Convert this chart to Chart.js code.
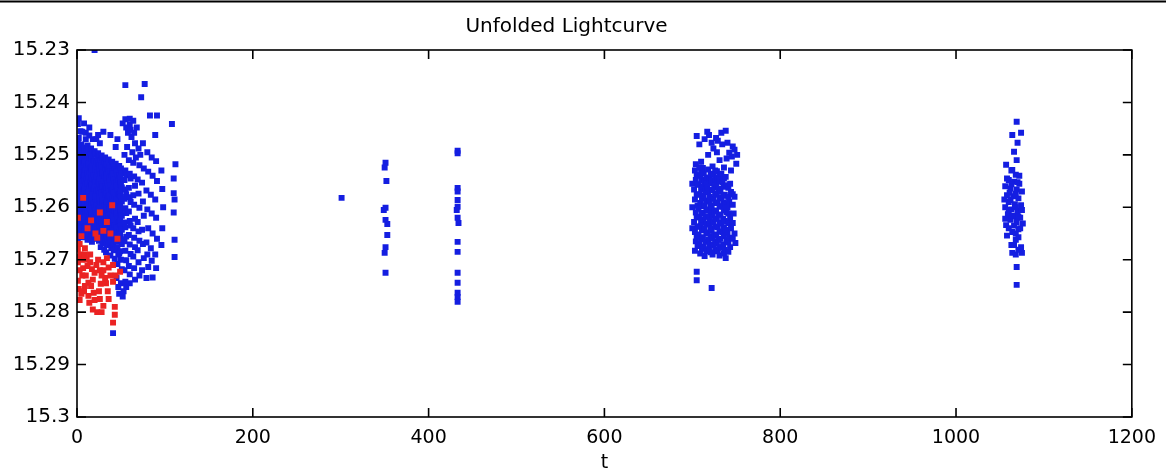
<!DOCTYPE html>
<html>
<head>
<meta charset="utf-8">
<script src="https://cdn.jsdelivr.net/npm/chart.js@4/dist/chart.umd.min.js"></script>
<style>
  body { margin: 0; background: #fff; }
</style>
</head>
<body>
<canvas id="lightcurve" width="1166" height="474"></canvas>
<script>
// t, magnitude pairs
const redEarly = [
  [7,15.2582],[26,15.2610],[40,15.2596],[34,15.2628],[23,15.2658],[3,15.2670],[9,15.2678],[15,15.2690],
  [1,15.2705],[22,15.2710],[30,15.2705],[26,15.2720],[34,15.2697],[41,15.2710],[6,15.2730],[13,15.2744],
  [2,15.2756],[18,15.2738],[27,15.2746],[32,15.2735],[41,15.2742],[19,15.2763],[13,15.2769],[3,15.2777],
  [20,15.2777],[30,15.2788],[23,15.2800],[43,15.2790],[43,15.2805],[41,15.2820],[7,15.2716],[49,15.2723],
  [4,15.2690],[11,15.2700],[17,15.2718],[36,15.2715],[28,15.2730],[8,15.2760],[25,15.2760],[35,15.2760],
  [1,15.2620],[12,15.2640],[5,15.2655],
  [1,15.2680],[2,15.2695],[5,15.2700],[9,15.2690],[12,15.2712],[3,15.2720],[15,15.2705],[20,15.2725],
  [24,15.2700],[10,15.2730],[16,15.2750],[30,15.2720],[38,15.2730],[33,15.2745],[44,15.2730],[9,15.2750],
  [5,15.2765],[1,15.2740],[14,15.2782],[26,15.2775],[36,15.2775],[28,15.2800],[18,15.2795],[21,15.2650],
  [30,15.2645],[16,15.2625],[38,15.2650],[46,15.2660]
];

const blueEarly = [
  [20,15.2300],[55,15.2367],[77,15.2365],[108,15.2441],[112,15.2518],[110,15.2545],[110,15.2573],[111,15.2585],
  [110,15.2610],[111,15.2662],[111,15.2695],[41,15.2840],[48,15.2765],[52,15.2770],
  [2,15.2430],[8,15.2440],[14,15.2448],[4,15.2455],[18,15.2470],[24,15.2462],[10,15.2458],
  [52,15.2440],[58,15.2458],[62,15.2466],[57,15.2485],[63,15.2495],[67,15.2505],[72,15.2500],
  [45,15.2735],[50,15.2745],[56,15.2752],[60,15.2745],[47,15.2752],[53,15.2760],
  [1,15.2441],[2,15.2468],[1,15.2477],[3,15.2486],[2,15.2495],[1,15.2503],[3,15.2512],[2,15.2521],[1,15.2530],
  [3,15.2538],[2,15.2547],[1,15.2556],[3,15.2565],[2,15.2573],[1,15.2582],[3,15.2591],[2,15.2600],[1,15.2609],
  [3,15.2618],[2,15.2627],[1,15.2636],[3,15.2645],[2,15.2654],[1,15.2663],
  [4,15.2491],[4,15.2510],[5,15.2526],[4,15.2545],[4,15.2563],[5,15.2579],[4,15.2598],[4,15.2617],[5,15.2633],[4,15.2651],
  [6,15.2456],[5,15.2480],[7,15.2489],[6,15.2498],[5,15.2507],[7,15.2516],[6,15.2524],[5,15.2533],[7,15.2542],
  [6,15.2551],[5,15.2560],[7,15.2569],[6,15.2577],[5,15.2586],[7,15.2595],[6,15.2604],[5,15.2613],[7,15.2622],
  [6,15.2631],[5,15.2640],[7,15.2649],[6,15.2657],
  [8,15.2494],[8,15.2514],[9,15.2530],[8,15.2549],[8,15.2568],[9,15.2584],[8,15.2603],[8,15.2622],[9,15.2638],[8,15.2656],
  [10,15.2470],[9,15.2486],[11,15.2494],[10,15.2503],[9,15.2512],[11,15.2521],[10,15.2530],[9,15.2539],
  [11,15.2547],[10,15.2556],[9,15.2565],[11,15.2574],[10,15.2583],[9,15.2592],[11,15.2601],[10,15.2610],
  [9,15.2619],[11,15.2628],[10,15.2637],[9,15.2646],[11,15.2655],
  [12,15.2482],[12,15.2501],[13,15.2518],[12,15.2535],[12,15.2555],[13,15.2571],[12,15.2591],[12,15.2607],[13,15.2627],[12,15.2645],[12,15.2662],
  [14,15.2463],[13,15.2490],[15,15.2499],[14,15.2508],[13,15.2517],[15,15.2526],[14,15.2535],[13,15.2544],
  [15,15.2553],[14,15.2562],[13,15.2571],[15,15.2580],[14,15.2589],[13,15.2598],[15,15.2607],[14,15.2616],
  [13,15.2625],[15,15.2634],[14,15.2643],[13,15.2652],[15,15.2661],
  [16,15.2488],[16,15.2507],[17,15.2523],[16,15.2543],[16,15.2559],[17,15.2579],[16,15.2595],[16,15.2615],[17,15.2631],[16,15.2650],
  [18,15.2494],[17,15.2503],[19,15.2512],[18,15.2521],[17,15.2530],[19,15.2539],[18,15.2548],[17,15.2557],
  [19,15.2566],[18,15.2575],[17,15.2584],[19,15.2593],[18,15.2602],[17,15.2611],[19,15.2620],[18,15.2629],
  [17,15.2638],[19,15.2647],[18,15.2656],[17,15.2666],
  [20,15.2493],[20,15.2512],[21,15.2528],[20,15.2548],[20,15.2564],[21,15.2584],[20,15.2600],[20,15.2620],[21,15.2636],[20,15.2655],
  [22,15.2470],[21,15.2498],[23,15.2507],[22,15.2516],[21,15.2525],[23,15.2534],[22,15.2543],[21,15.2552],
  [23,15.2561],[22,15.2570],[21,15.2579],[23,15.2588],[22,15.2597],[21,15.2606],[23,15.2615],[22,15.2624],
  [21,15.2633],[23,15.2642],[22,15.2651],[21,15.2660],
  [24,15.2497],[24,15.2516],[25,15.2532],[24,15.2552],[24,15.2568],[25,15.2588],[24,15.2604],[24,15.2624],[25,15.2640],[24,15.2659],
  [26,15.2478],[25,15.2502],[27,15.2511],[26,15.2520],[25,15.2529],[27,15.2538],[26,15.2547],[25,15.2556],
  [27,15.2565],[26,15.2574],[25,15.2583],[27,15.2592],[26,15.2601],[25,15.2610],[27,15.2619],[26,15.2628],
  [25,15.2637],[27,15.2646],[26,15.2655],[25,15.2664],[27,15.2676],
  [28,15.2501],[28,15.2520],[29,15.2536],[28,15.2556],[28,15.2572],[29,15.2592],[28,15.2608],[28,15.2628],[29,15.2644],[28,15.2663],
  [30,15.2456],[29,15.2506],[31,15.2515],[30,15.2524],[29,15.2533],[31,15.2542],[30,15.2551],[29,15.2560],
  [31,15.2569],[30,15.2578],[29,15.2587],[31,15.2596],[30,15.2605],[29,15.2614],[31,15.2623],[30,15.2632],
  [29,15.2641],[31,15.2650],[30,15.2659],[29,15.2668],[31,15.2681],
  [32,15.2505],[32,15.2524],[33,15.2540],[32,15.2560],[32,15.2576],[33,15.2596],[32,15.2612],[32,15.2632],[33,15.2648],[32,15.2667],
  [34,15.2510],[33,15.2519],[35,15.2528],[34,15.2537],[33,15.2546],[35,15.2555],[34,15.2564],[33,15.2573],
  [35,15.2582],[34,15.2591],[33,15.2600],[35,15.2609],[34,15.2618],[33,15.2627],[35,15.2636],[34,15.2645],
  [33,15.2654],[35,15.2663],[34,15.2672],[33,15.2686],
  [36,15.2509],[36,15.2528],[37,15.2544],[36,15.2564],[36,15.2580],[37,15.2600],[36,15.2616],[36,15.2636],[37,15.2652],[36,15.2671],
  [38,15.2462],[39,15.2514],[37,15.2523],[38,15.2532],[39,15.2541],[37,15.2550],[38,15.2559],[39,15.2568],
  [37,15.2577],[38,15.2586],[39,15.2595],[37,15.2604],[38,15.2613],[39,15.2622],[37,15.2631],[38,15.2640],
  [39,15.2649],[37,15.2658],[38,15.2667],[39,15.2678],[38,15.2692],
  [40,15.2513],[40,15.2532],[41,15.2548],[40,15.2568],[40,15.2584],[41,15.2604],[40,15.2620],[40,15.2640],[41,15.2656],[40,15.2675],
  [44,15.2485],[42,15.2518],[43,15.2527],[41,15.2536],[42,15.2545],[43,15.2554],[41,15.2563],[42,15.2572],
  [43,15.2581],[41,15.2590],[42,15.2599],[43,15.2608],[41,15.2617],[42,15.2626],[43,15.2635],[41,15.2644],
  [42,15.2653],[43,15.2662],[41,15.2671],[42,15.2682],[43,15.2698],
  [44,15.2517],[44,15.2536],[45,15.2552],[44,15.2572],[44,15.2588],[45,15.2608],[44,15.2624],[44,15.2644],[45,15.2660],[44,15.2680],
  [46,15.2470],[47,15.2522],[45,15.2531],[46,15.2540],[47,15.2549],[45,15.2558],[46,15.2567],[47,15.2576],
  [45,15.2585],[46,15.2594],[47,15.2603],[45,15.2612],[46,15.2621],[47,15.2630],[45,15.2639],[46,15.2648],
  [47,15.2657],[45,15.2666],[46,15.2676],[47,15.2690],[46,15.2708],
  [48,15.2521],[48,15.2540],[49,15.2556],[48,15.2576],[48,15.2592],[49,15.2612],[48,15.2628],[48,15.2648],[49,15.2664],[48,15.2688],
  [50,15.2526],[51,15.2535],[49,15.2544],[50,15.2553],[51,15.2562],[49,15.2571],[50,15.2580],[51,15.2589],
  [49,15.2598],[50,15.2607],[51,15.2616],[49,15.2625],[50,15.2634],[51,15.2643],[49,15.2652],[50,15.2661],
  [51,15.2670],[49,15.2684],[50,15.2700],[51,15.2718],
  [55,15.2432],[56,15.2448],[54,15.2500],[55,15.2530],[56,15.2539],[54,15.2548],[55,15.2566],[56,15.2575],
  [54,15.2584],[55,15.2602],[56,15.2611],[54,15.2629],[55,15.2638],[56,15.2656],[54,15.2665],[55,15.2683],
  [56,15.2701],[54,15.2720],[55,15.2742],
  [60,15.2431],[60,15.2442],[61,15.2452],[59,15.2510],[60,15.2536],[61,15.2545],[59,15.2563],[60,15.2581],
  [61,15.2590],[59,15.2608],[60,15.2626],[61,15.2635],[59,15.2653],[60,15.2671],[61,15.2689],[59,15.2712],
  [60,15.2728],
  [64,15.2435],[65,15.2458],[66,15.2478],[64,15.2515],[65,15.2541],[66,15.2559],[64,15.2577],[65,15.2595],
  [66,15.2622],[64,15.2640],[65,15.2658],[66,15.2676],[64,15.2694],[65,15.2716],[66,15.2738],
  [68,15.2448],[70,15.2488],[71,15.2520],[69,15.2547],[70,15.2574],[71,15.2601],[69,15.2628],[70,15.2646],
  [71,15.2664],[69,15.2682],[70,15.2705],[71,15.2730],
  [73,15.2390],[75,15.2478],[76,15.2526],[74,15.2553],[75,15.2589],[76,15.2616],[74,15.2643],[75,15.2670],
  [76,15.2697],[74,15.2720],
  [80,15.2495],[81,15.2532],[79,15.2568],[80,15.2604],[81,15.2640],[79,15.2667],[80,15.2690],[81,15.2714],
  [79,15.2735],
  [83,15.2425],[85,15.2505],[86,15.2540],[84,15.2576],[85,15.2612],[86,15.2650],[84,15.2678],[85,15.2702],
  [86,15.2734],
  [91,15.2425],[89,15.2462],[90,15.2512],[91,15.2550],[89,15.2585],[90,15.2620],[91,15.2660],[89,15.2690],
  [90,15.2716],
  [96,15.2530],[97,15.2565],[98,15.2600],[97,15.2640],[96,15.2672]
];

const blue350 = [
  [301,15.2582],[351,15.2515],[350,15.2524],[352,15.2550],[351,15.2601],[349,15.2605],[351,15.2624],
  [353,15.2632],[353,15.2653],[351,15.2676],[350,15.2687],[351,15.2725]
];

const blue432 = [
  [433,15.2492],[433,15.2497],[433,15.2563],[433,15.2570],[433,15.2586],[433,15.2599],[432,15.2605],
  [433,15.2620],[434,15.2630],[433,15.2666],[433,15.2685],[433,15.2725],[433,15.2744],[433,15.2763],
  [433,15.2771],[433,15.2780]
];

const blue730 = [
  [705,15.2464],[717,15.2456],[719,15.2462],[733,15.2458],[738,15.2454],[727,15.2468],[722,15.2477],
  [729,15.2473],[740,15.2477],[746,15.2484],[748,15.2490],[728,15.2495],[739,15.2507],[745,15.2503],
  [751,15.2500],[704,15.2518],[710,15.2513],[750,15.2517],
  [708,15.2480],[714,15.2470],[724,15.2488],[734,15.2480],[742,15.2496],[718,15.2500],[731,15.2510],
  [712,15.2525],[736,15.2524],[744,15.2530],[700,15.2555],[700,15.2600],[700,15.2640],
  [703,15.2530],[704,15.2548],[702,15.2566],[703,15.2585],[704,15.2610],[702,15.2628],[703,15.2647],[704,15.2665],[703,15.2683],
  [705,15.2539],[706,15.2557],[705,15.2576],[706,15.2597],[705,15.2619],[706,15.2637],[705,15.2656],[706,15.2674],
  [708,15.2524],[709,15.2540],[707,15.2556],[708,15.2575],[709,15.2592],[707,15.2603],[708,15.2619],[709,15.2636],
  [707,15.2652],[708,15.2670],[709,15.2688],
  [710,15.2532],[711,15.2548],[710,15.2566],[711,15.2584],[710,15.2598],[711,15.2611],[710,15.2628],[711,15.2644],
  [710,15.2661],[711,15.2679],
  [713,15.2535],[714,15.2551],[712,15.2560],[713,15.2578],[714,15.2596],[712,15.2612],[713,15.2624],[714,15.2640],
  [712,15.2657],[713,15.2675],[714,15.2693],
  [716,15.2543],[716,15.2555],[715,15.2569],[716,15.2587],[716,15.2604],[715,15.2618],[716,15.2632],[716,15.2648],
  [715,15.2666],[716,15.2684],
  [718,15.2528],[719,15.2545],[717,15.2563],[718,15.2571],[719,15.2589],[717,15.2605],[718,15.2617],[719,15.2633],
  [717,15.2650],[718,15.2662],[719,15.2680],
  [721,15.2536],[721,15.2554],[720,15.2580],[721,15.2597],[721,15.2611],[720,15.2625],[721,15.2641],[721,15.2655],
  [720,15.2671],[721,15.2686],
  [723,15.2522],[724,15.2538],[722,15.2549],[723,15.2567],[724,15.2584],[722,15.2600],[723,15.2615],[724,15.2629],
  [722,15.2645],[723,15.2659],[724,15.2672],[723,15.2690],
  [726,15.2530],[726,15.2547],[725,15.2562],[726,15.2576],[726,15.2592],[725,15.2608],[726,15.2622],[726,15.2637],
  [725,15.2652],[726,15.2665],[726,15.2680],
  [728,15.2531],[729,15.2543],[727,15.2557],[728,15.2574],[729,15.2591],[727,15.2606],[728,15.2622],[729,15.2638],
  [727,15.2654],[728,15.2668],[729,15.2684],
  [731,15.2540],[731,15.2550],[730,15.2565],[731,15.2582],[731,15.2598],[730,15.2614],[731,15.2630],[731,15.2646],
  [730,15.2662],[731,15.2676],[731,15.2692],
  [733,15.2536],[734,15.2553],[732,15.2569],[733,15.2583],[734,15.2599],[732,15.2614],[733,15.2631],[734,15.2647],
  [732,15.2660],[733,15.2677],
  [736,15.2545],[736,15.2561],[735,15.2578],[736,15.2591],[736,15.2606],[735,15.2622],[736,15.2638],[736,15.2655],
  [735,15.2671],[736,15.2688],
  [738,15.2542],[739,15.2558],[737,15.2576],[738,15.2594],[739,15.2609],[737,15.2626],[738,15.2643],[739,15.2663],
  [737,15.2681],[738,15.2697],
  [741,15.2563],[741,15.2580],[740,15.2600],[741,15.2612],[741,15.2630],[740,15.2648],[741,15.2667],[741,15.2685],
  [743,15.2555],[744,15.2571],[742,15.2590],[743,15.2620],[744,15.2640],[742,15.2658],[743,15.2676],
  [746,15.2575],[746,15.2595],[746,15.2630],[746,15.2660],
  [748,15.2580],[747,15.2612],[748,15.2650],[749,15.2668],
  [705,15.2723],[705,15.2739],[722,15.2754]
];

const blue1065 = [
  [1069,15.2437],[1064,15.2462],[1074,15.2458],[1070,15.2477],[1066,15.2494],[1069,15.2510],[1057,15.2519],
  [1064,15.2529],[1068,15.2538],[1060,15.2548],[1066,15.2551],[1072,15.2555],[1056,15.2560],[1062,15.2564],
  [1069,15.2566],[1075,15.2570],[1058,15.2577],[1065,15.2579],[1071,15.2583],[1060,15.2590],[1067,15.2594],
  [1074,15.2596],[1056,15.2600],[1063,15.2604],[1070,15.2607],[1059,15.2613],[1066,15.2617],[1073,15.2620],
  [1062,15.2624],[1069,15.2628],[1076,15.2631],[1057,15.2634],[1064,15.2647],[1071,15.2642],[1068,15.2662],
  [1063,15.2672],[1074,15.2676],[1064,15.2687],[1068,15.2690],[1075,15.2687],[1069,15.2714],[1069,15.2748],
  [1058,15.2545],[1063,15.2556],[1070,15.2552],[1061,15.2572],[1068,15.2574],[1055,15.2585],[1062,15.2586],
  [1068,15.2600],[1075,15.2605],[1060,15.2605],[1064,15.2616],[1071,15.2618],[1056,15.2622],[1066,15.2635],
  [1060,15.2640],[1073,15.2640],[1068,15.2650],[1058,15.2654],[1071,15.2657],[1066,15.2672],[1071,15.2681],
  [1063,15.2530],[1072,15.2540]
];

const xTicks = [0, 200, 400, 600, 800, 1000, 1200];
const yTicks = [15.23, 15.24, 15.25, 15.26, 15.27, 15.28, 15.29, 15.3];

function toPoints(pairs) {
    return pairs.map(p => ({ x: p[0], y: p[1] }));
}

// box around the plot plus inward ticks, matlab style
const frame = {
    id: 'frame',
    afterDraw(chart) {
        const ctx = chart.ctx;
        const a = chart.chartArea;
        const x = chart.scales.x;
        const y = chart.scales.y;
        ctx.save();
        ctx.strokeStyle = '#000';
        ctx.lineWidth = 1.6;
        ctx.strokeRect(a.left, a.top, a.right - a.left, a.bottom - a.top);
        ctx.beginPath();
        xTicks.forEach(v => {
            const px = x.getPixelForValue(v);
            ctx.moveTo(px, a.bottom); ctx.lineTo(px, a.bottom - 9);
            ctx.moveTo(px, a.top); ctx.lineTo(px, a.top + 9);
        });
        yTicks.forEach(v => {
            const py = y.getPixelForValue(v);
            ctx.moveTo(a.left, py); ctx.lineTo(a.left + 9, py);
            ctx.moveTo(a.right, py); ctx.lineTo(a.right - 9, py);
        });
        ctx.stroke();
        // rule across the very top of the figure
        ctx.lineWidth = 2;
        ctx.beginPath();
        ctx.moveTo(0, 1.5); ctx.lineTo(chart.width, 1.5);
        ctx.stroke();
        ctx.restore();
    }
};

const blue = 'rgb(20, 30, 225)';
const red = 'rgb(235, 35, 35)';
const dot = { pointStyle: 'rect', pointRadius: 4.2, pointBorderWidth: 0, showLine: false };

var ctx = document.getElementById('lightcurve');
var chart = new Chart(ctx, {
    type: 'scatter',
    data: {
        datasets: [
            Object.assign({ label: 'red', data: toPoints(redEarly), backgroundColor: red, order: 0 }, dot),
            Object.assign({ label: 'early', data: toPoints(blueEarly), backgroundColor: blue, order: 1 }, dot),
            Object.assign({ label: '350', data: toPoints(blue350), backgroundColor: blue, order: 1 }, dot),
            Object.assign({ label: '432', data: toPoints(blue432), backgroundColor: blue, order: 1 }, dot),
            Object.assign({ label: '730', data: toPoints(blue730), backgroundColor: blue, order: 1 }, dot),
            Object.assign({ label: '1065', data: toPoints(blue1065), backgroundColor: blue, order: 1 }, dot)
        ]
    },
    options: {
        responsive: false,
        animation: false,
        devicePixelRatio: 1,
        layout: { padding: { left: 0, right: 33, top: 0, bottom: 0 } },
        plugins: {
            legend: { display: false },
            tooltip: { enabled: false },
            title: {
                display: true,
                text: 'Unfolded Lightcurve',
                color: '#000',
                font: { family: 'DejaVu Sans', size: 20, weight: 'normal' },
                padding: { top: 15, bottom: 11 }
            }
        },
        scales: {
            x: {
                type: 'linear',
                min: 0,
                max: 1200,
                afterBuildTicks: s => { s.ticks = xTicks.map(v => ({ value: v })); },
                afterFit: s => { s.height = 57; },
                grid: { display: false, drawTicks: false },
                border: { display: false },
                ticks: {
                    color: '#000',
                    padding: 10,
                    maxRotation: 0,
                    font: { family: 'DejaVu Sans', size: 19 },
                    callback: v => String(v)
                },
                title: {
                    display: true,
                    text: 't',
                    color: '#000',
                    padding: { top: 0, bottom: 0 },
                    font: { family: 'DejaVu Sans', size: 19 }
                }
            },
            y: {
                type: 'linear',
                reverse: true,
                min: 15.23,
                max: 15.3,
                afterBuildTicks: s => { s.ticks = yTicks.map(v => ({ value: v })); },
                afterFit: s => { s.width = 77; },
                grid: { display: false, drawTicks: false },
                border: { display: false },
                ticks: {
                    color: '#000',
                    padding: 7,
                    font: { family: 'DejaVu Sans', size: 20 },
                    callback: v => String(Number(v.toFixed(2)))
                }
            }
        }
    },
    plugins: [frame]
});
</script>
</body>
</html>
